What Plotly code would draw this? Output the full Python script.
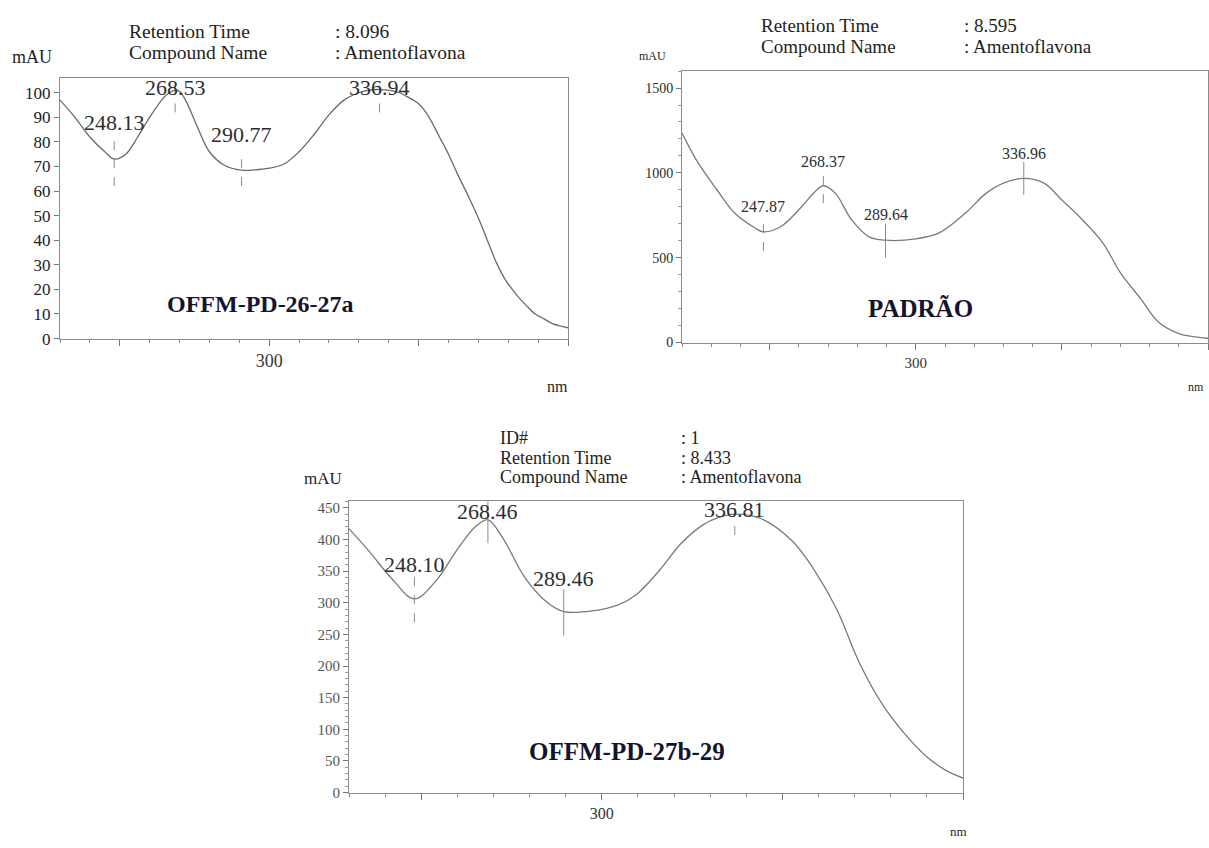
import plotly.graph_objects as go

W, H = 1209, 848
SERIF = "Liberation Serif, Times New Roman, serif"

# --- OFFM-PD-26-27a (top left) ---
tl_nm = [230, 235, 240, 245, 248.13, 252, 256, 260, 264, 266, 268.53, 270, 272, 276, 280, 285,
         290.77, 295, 300, 305, 310, 315, 320, 325, 330, 333, 336.94, 343, 346, 350, 353, 357,
         360, 363, 367, 370, 373, 376, 379, 383, 386, 389, 392, 395, 400]
tl_mau = [97, 90, 82, 76, 73, 75, 82, 90, 97, 99.5, 101, 100.5, 97, 86, 76, 70.5,
          68.5, 68.6, 69.3, 71, 76, 83, 91, 97, 100, 101, 101.3, 100.3, 98.5, 95.5, 91, 82,
          75, 67, 57, 49, 40, 31, 24, 17.5, 13.5, 10, 8, 6, 4.4]
tl_peaks = [248.13, 268.53, 290.77, 336.94]
tl_label_y = [88, 102, 83, 102]
tl_mark = [(62, 81), (92, 106), (62, 76), (92, 106)]

# --- PADRÃO (top right) ---
tr_nm = [220, 225, 232, 238, 245, 247.87, 254, 261, 265, 268.37, 272.5, 278, 284, 289.64,
         300, 308, 317, 324, 330, 336.96, 344, 350, 357, 364, 370, 377, 383, 390, 395, 400]
tr_mau = [1235, 1074, 899, 763, 675, 652, 685, 802, 880, 924, 879, 724, 623, 603,
          611, 646, 763, 879, 940, 967, 938, 840, 724, 588, 412, 257, 121, 53, 35, 25]
tr_peaks = [247.87, 268.37, 289.64, 336.96]
tr_label_y = [802, 1068, 753, 1117]
tr_mark = [(539, 733), (821, 1006), (500, 700), (870, 1064)]

# --- OFFM-PD-27b-29 (bottom) ---
b_nm = [230, 235.6, 241.7, 248.10, 254, 260.2, 265, 268.46, 272.6, 278.8, 285, 289.46,
        297.3, 304.7, 309.6, 315.8, 322, 328, 332, 336.81, 344, 352.8, 359, 365, 371.4,
        377.5, 383.7, 389.9, 395, 400]
b_mau = [417, 381, 339, 306, 334, 386, 420, 431, 402, 339, 300, 286,
         287, 297, 313, 350, 394, 423, 434, 440, 433, 397, 350, 290, 204,
         141, 94, 57, 36, 23]
b_peaks = [248.10, 268.46, 289.46, 336.81]
b_label_y = [360, 444, 339, 447]
b_mark = [(269, 344), (394, 470), (248, 321), (407, 460)]

header_keys = ["Retention Time", "Compound Name"]
tl_header = [": 8.096", ": Amentoflavona"]
tr_header = [": 8.595", ": Amentoflavona"]
b_header_keys = ["ID#", "Retention Time", "Compound Name"]
b_header = [": 1", ": 8.433", ": Amentoflavona"]


def px(x):
    return x / W


def py(y):
    return 1 - y / H


fig = go.Figure()
annots = []


def add_panel(n, nm, mau, peaks, lab_y, marks, dashes, box, xr, yr, ytick, yminor,
              tick_fs, peak_fs, tick_col, line_col, name, name_xy, name_fs):
    sfx = "" if n == 1 else str(n)
    xa, ya = "x" + sfx, "y" + sfx
    fig.add_trace(go.Scatter(x=nm, y=mau, mode="lines",
                             line=dict(color=line_col, width=1.3, shape="spline", smoothing=1.0),
                             xaxis=xa, yaxis=ya, showlegend=False, hoverinfo="x+y"))
    for p, ly, (lo, hi), d in zip(peaks, lab_y, marks, dashes):
        fig.add_trace(go.Scatter(x=[p, p], y=[lo, hi], mode="lines", line=dict(color="#8a8a8a", width=1, dash=d),
                                 xaxis=xa, yaxis=ya, showlegend=False, hoverinfo="skip"))
        annots.append(dict(x=p, y=ly, xref=xa, yref=ya, text=f"{p:.2f}", showarrow=False,
                           font=dict(family=SERIF, size=peak_fs, color="#2e2e2e")))
    annots.append(dict(x=name_xy[0], y=name_xy[1], xref=xa, yref=ya, text=f"<b>{name}</b>", showarrow=False,
                       font=dict(family=SERIF, size=name_fs, color="#14142e")))
    x0, y0, x1, y1 = box
    axx = dict(domain=[px(x0), px(x1)], range=xr, anchor=ya, showline=True, mirror=True,
               linecolor="#8c8c8c", linewidth=1, showgrid=False, zeroline=False,
               tickmode="array", tickvals=[250, 300, 350, 400], ticktext=["", "300", "", ""],
               ticks="outside", ticklen=6, tickcolor="#777",
               minor=dict(dtick=10, tick0=0, ticks="outside", ticklen=3, tickcolor="#888"),
               tickfont=dict(family=SERIF, size=tick_fs + 1, color="#333"), fixedrange=True)
    axy = dict(domain=[py(y1), py(y0)], range=yr, anchor=xa, showline=True, mirror=True,
               linecolor="#8c8c8c", linewidth=1, showgrid=False, zeroline=False,
               tickmode="linear", tick0=0, dtick=ytick, ticks="outside", ticklen=5, tickcolor="#777",
               tickfont=dict(family=SERIF, size=tick_fs, color=tick_col), fixedrange=True)
    if yminor:
        axy["minor"] = dict(dtick=yminor, tick0=0, ticks="outside", ticklen=3, tickcolor="#999")
    fig.update_layout({"xaxis" + sfx: axx, "yaxis" + sfx: axy})


def text(x, y, s, size, anchor="left", color="#1e1e1e"):
    annots.append(dict(x=px(x), y=py(y), xref="paper", yref="paper", text=s, showarrow=False,
                       xanchor=anchor, yanchor="middle", font=dict(family=SERIF, size=size, color=color)))


add_panel(1, tl_nm, tl_mau, tl_peaks, tl_label_y, tl_mark, ["dash"] * 4,
          (60, 78, 568, 342), [230, 400], [0, 106], 10, None, 17, 22, "#222", "#6a6a6a",
          "OFFM-PD-26-27a", (297, 14), 24)
add_panel(2, tr_nm, tr_mau, tr_peaks, tr_label_y, tr_mark, ["dash", "dash", "solid", "solid"],
          (682, 71, 1208, 346), [220, 400], [0, 1600], 500, 100, 14, 16, "#2a2a2a", "#7a7a7a",
          "PADRÃO", (301.6, 198), 25)
add_panel(3, b_nm, b_mau, b_peaks, b_label_y, b_mark, ["dash", "solid", "solid", "dash"],
          (349, 507, 963, 802), [230, 400], [0, 460], 50, 10, 15, 22, "#555", "#7a7a7a",
          "OFFM-PD-27b-29", (307, 65), 25)

# headers
for i, k in enumerate(header_keys):
    text(127, 31 + 21 * i, k, 19.5)
    text(333, 31 + 21 * i, tl_header[i], 19.5)
    text(759, 25 + 21 * i, k, 19)
    text(962, 25 + 21 * i, tr_header[i], 19)
for i, k in enumerate(b_header_keys):
    text(498, 443 + 19.5 * i, k, 18)
    text(679, 443 + 19.5 * i, b_header[i], 18)

text(10, 57, "mAU", 18)
text(637, 56, "mAU", 12)
text(302, 484, "mAU", 17)
text(557, 391, "nm", 16, anchor="center")
text(1196, 391, "nm", 12, anchor="center")
text(958, 841, "nm", 13, anchor="center")

fig.update_layout(width=W, height=H, margin=dict(l=0, r=0, t=0, b=0),
                  paper_bgcolor="white", plot_bgcolor="white",
                  annotations=annots, showlegend=False)

# drop the default page margin so the figure sits at the window's corner
fig.write_html("out.html", config={"displayModeBar": False},
               post_script="document.body.style.margin='0';")
